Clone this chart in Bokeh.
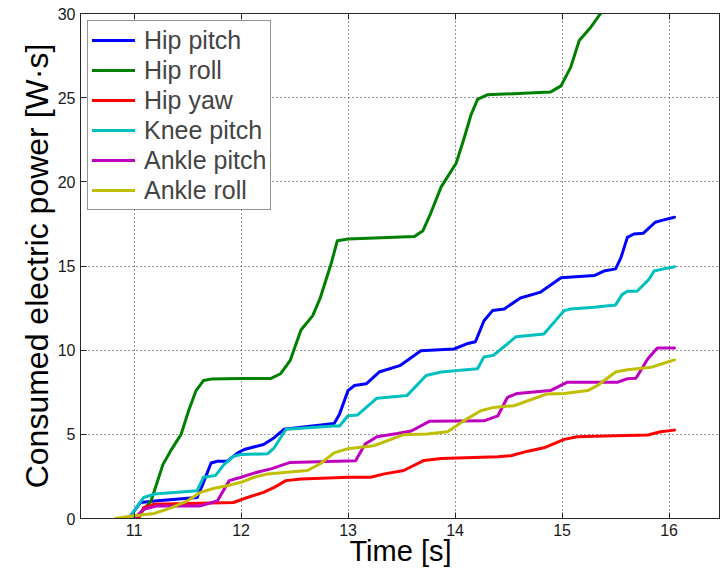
from bokeh.plotting import figure
from bokeh.models import FixedTicker, LinearAxis, Range1d, Legend, LegendItem
from bokeh.embed import file_html
from bokeh.resources import INLINE

series_names = ["Hip pitch", "Hip roll", "Hip yaw", "Knee pitch", "Ankle pitch", "Ankle roll"]
series_colors = ["#0000FF", "#008000", "#FF0000", "#00BFBF", "#BF00BF", "#BFBF00"]

hip_pitch_t = [10.95, 11.06, 11.22, 11.59, 11.64, 11.72, 11.78, 11.87, 11.97, 12.03, 12.21, 12.31, 12.40, 12.87, 12.92, 13.0, 13.06, 13.17, 13.29, 13.49, 13.68, 13.99, 14.12, 14.19, 14.27, 14.35, 14.46, 14.61, 14.80, 14.99, 15.30, 15.39, 15.50, 15.55, 15.61, 15.67, 15.76, 15.87, 15.95, 16.05]
hip_pitch_v = [0.0, 0.95, 1.05, 1.25, 2.0, 3.3, 3.4, 3.4, 3.9, 4.1, 4.4, 4.8, 5.3, 5.65, 6.2, 7.6, 7.9, 8.0, 8.7, 9.1, 9.97, 10.07, 10.4, 10.5, 11.75, 12.35, 12.45, 13.1, 13.45, 14.3, 14.43, 14.7, 14.83, 15.5, 16.7, 16.9, 16.95, 17.6, 17.74, 17.9]

hip_roll_t = [11.0, 11.06, 11.16, 11.27, 11.34, 11.44, 11.51, 11.58, 11.65, 11.72, 12.0, 12.28, 12.37, 12.46, 12.56, 12.67, 12.74, 12.84, 12.90, 13.0, 13.62, 13.70, 13.77, 13.87, 13.91, 14.01, 14.08, 14.15, 14.21, 14.30, 14.89, 14.99, 15.08, 15.16, 15.27, 15.36]
hip_roll_v = [0.0, 0.3, 1.05, 3.2, 4.0, 5.0, 6.4, 7.6, 8.2, 8.28, 8.32, 8.32, 8.6, 9.4, 11.2, 12.05, 13.1, 15.1, 16.5, 16.6, 16.75, 17.1, 18.1, 19.7, 20.1, 21.1, 22.5, 24.0, 24.9, 25.17, 25.33, 25.7, 26.8, 28.4, 29.2, 30.0]

hip_yaw_t = [11.0, 11.05, 11.09, 11.19, 11.93, 12.06, 12.21, 12.31, 12.42, 12.56, 13.0, 13.21, 13.34, 13.52, 13.71, 13.87, 14.40, 14.52, 14.68, 14.83, 15.02, 15.14, 15.30, 15.80, 15.92, 16.05]
hip_yaw_v = [0.0, 0.1, 0.65, 0.85, 0.95, 1.25, 1.55, 1.85, 2.25, 2.35, 2.45, 2.45, 2.65, 2.85, 3.45, 3.57, 3.67, 3.73, 4.0, 4.2, 4.7, 4.86, 4.88, 4.96, 5.15, 5.25]

knee_pitch_t = [10.95, 11.09, 11.19, 11.59, 11.65, 11.76, 11.84, 11.93, 12.0, 12.25, 12.31, 12.42, 12.87, 12.92, 13.0, 13.09, 13.27, 13.55, 13.73, 13.87, 14.21, 14.27, 14.36, 14.57, 14.83, 15.02, 15.08, 15.30, 15.50, 15.56, 15.61, 15.70, 15.81, 15.86, 15.95, 16.05]
knee_pitch_v = [0.0, 1.25, 1.45, 1.65, 2.45, 2.55, 3.2, 3.7, 3.8, 3.85, 4.2, 5.3, 5.5, 5.5, 6.1, 6.15, 7.15, 7.3, 8.5, 8.7, 8.9, 9.6, 9.7, 10.8, 10.96, 12.35, 12.45, 12.55, 12.69, 13.3, 13.5, 13.5, 14.2, 14.7, 14.83, 14.96]

ankle_pitch_t = [11.0, 11.09, 11.22, 11.62, 11.78, 11.89, 12.0, 12.15, 12.28, 12.46, 13.07, 13.16, 13.27, 13.46, 13.59, 13.76, 14.27, 14.40, 14.49, 14.58, 14.89, 15.05, 15.52, 15.61, 15.69, 15.80, 15.89, 16.05]
ankle_pitch_v = [0.0, 0.55, 0.75, 0.75, 1.05, 2.25, 2.45, 2.75, 2.95, 3.33, 3.43, 4.42, 4.86, 5.05, 5.2, 5.77, 5.8, 6.1, 7.2, 7.43, 7.6, 8.1, 8.1, 8.3, 8.33, 9.48, 10.13, 10.13]

ankle_roll_t = [10.83, 11.0, 11.19, 11.34, 11.50, 11.62, 11.75, 11.87, 12.0, 12.12, 12.25, 12.43, 12.62, 12.74, 12.87, 13.0, 13.24, 13.52, 13.74, 13.93, 14.08, 14.24, 14.36, 14.55, 14.70, 14.86, 15.02, 15.24, 15.33, 15.50, 15.61, 15.83, 15.95, 16.05]
ankle_roll_v = [0.0, 0.16, 0.3, 0.62, 1.05, 1.55, 1.8, 1.95, 2.15, 2.45, 2.65, 2.75, 2.85, 3.25, 3.9, 4.15, 4.32, 4.98, 5.02, 5.15, 5.8, 6.4, 6.6, 6.7, 7.04, 7.4, 7.43, 7.6, 7.9, 8.7, 8.84, 8.98, 9.22, 9.42]

x_ticks = [11, 12, 13, 14, 15, 16]
y_ticks = [0, 5, 10, 15, 20, 25, 30]

series = [
    (hip_pitch_t, hip_pitch_v),
    (hip_roll_t, hip_roll_v),
    (hip_yaw_t, hip_yaw_v),
    (knee_pitch_t, knee_pitch_v),
    (ankle_pitch_t, ankle_pitch_v),
    (ankle_roll_t, ankle_roll_v),
]

FONT = "Liberation Sans"

p = figure(width=720, height=569, output_backend="svg", toolbar_location=None,
           x_range=Range1d(10.5, 16.48), y_range=Range1d(0, 30),
           min_border_left=80, min_border_right=0, min_border_top=13, min_border_bottom=51)
p.background_fill_color = "white"
p.border_fill_color = "white"
p.outline_line_color = "#262626"
p.outline_line_width = 1

for ax in (p.xaxis[0], p.yaxis[0]):
    ax.major_tick_in = 6
    ax.major_tick_out = 0
    ax.minor_tick_in = 0
    ax.minor_tick_out = 0
    ax.axis_line_color = "#262626"
    ax.major_tick_line_color = "#262626"
    ax.major_label_text_font = FONT
    ax.major_label_text_font_size = "16px"
    ax.major_label_text_color = "#1a1a1a"
    ax.axis_label_text_font = FONT
    ax.axis_label_text_font_style = "normal"
    ax.axis_label_text_color = "black"
    ax.axis_label_standoff = 0

p.xaxis.ticker = FixedTicker(ticks=x_ticks)
p.yaxis.ticker = FixedTicker(ticks=y_ticks)
p.xaxis.axis_label = "Time [s]"
p.xaxis.axis_label_text_font_size = "29px"
p.xaxis.major_label_standoff = 5
p.xaxis.axis_label_standoff = -4
p.yaxis.axis_label = "Consumed electric power [W\u00b7s]"
p.yaxis.axis_label_text_font_size = "32px"
p.yaxis.major_label_standoff = 5

top_axis = LinearAxis(ticker=FixedTicker(ticks=x_ticks),
                      major_label_overrides={t: "" for t in x_ticks},
                      major_label_standoff=0, major_tick_in=6, major_tick_out=0,
                      minor_tick_in=0, minor_tick_out=0, axis_line_color="#262626",
                      major_tick_line_color="#262626")
p.add_layout(top_axis, "above")

p.xgrid.ticker = FixedTicker(ticks=x_ticks)
p.ygrid.ticker = FixedTicker(ticks=y_ticks)
for g in (p.xgrid[0], p.ygrid[0]):
    g.grid_line_color = "black"
    g.grid_line_alpha = 0.8
    g.grid_line_dash = "1 3"
    g.grid_line_width = 1

items = []
for (t, v), name, col in zip(series, series_names, series_colors):
    r = p.line(t, v, line_color=col, line_width=3, line_join="round", line_cap="round")
    items.append(LegendItem(label=name, renderers=[r]))

legend = Legend(items=items, location="top_left", margin=7, padding=4, spacing=0,
                glyph_width=43, glyph_height=30, label_height=30, label_standoff=9,
                label_text_font=FONT, label_text_font_size="25px",
                border_line_color="#262626", border_line_width=1,
                background_fill_color="white", background_fill_alpha=1)
p.add_layout(legend, "center")

open("out.html", "w").write(file_html(p, INLINE))
